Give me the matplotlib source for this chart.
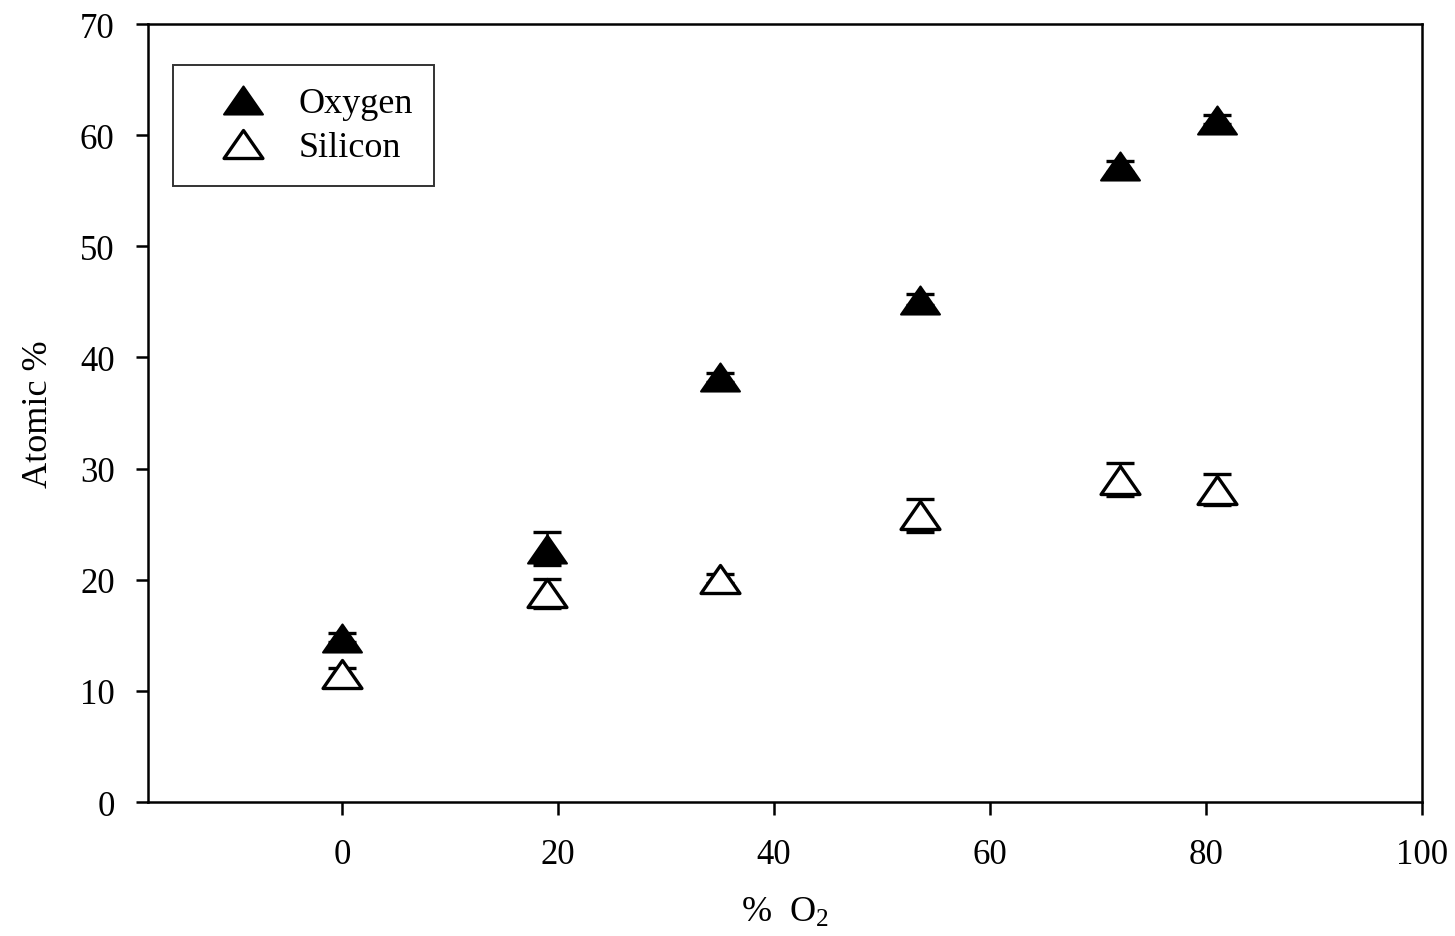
import matplotlib
matplotlib.use("Agg")
import matplotlib.pyplot as plt
from matplotlib.path import Path
from matplotlib.lines import Line2D

plt.rcParams['font.family'] = ['Liberation Serif', 'DejaVu Serif']
plt.rcParams['mathtext.fontset'] = 'custom'
plt.rcParams['mathtext.rm'] = 'Liberation Serif'
plt.rcParams['mathtext.it'] = 'Liberation Serif:italic'

# Oxygen fraction in the feed gas (%)
o2 = [0, 19, 35, 53.5, 72, 81]
# Atomic composition of the film (%)
oxygen = [14.8, 22.8, 38.2, 45.2, 57.2, 61.4]
oxygen_err = [0.4, 1.5, 0.4, 0.5, 0.5, 0.4]
silicon = [11.5, 18.8, 20.1, 25.8, 29.0, 28.1]
silicon_err = [0.6, 1.3, 0.4, 1.5, 1.5, 1.4]

# Slightly flattened triangle marker
tri = Path([(0, 0.72), (-1, -0.72), (1, -0.72), (0, 0.72)],
           [Path.MOVETO, Path.LINETO, Path.LINETO, Path.CLOSEPOLY])

fig = plt.figure(figsize=(14.55, 9.37), dpi=100)
ax = fig.add_axes([0.1017, 0.1430, 0.8756, 0.8303])

ms = 28
ax.errorbar(o2, oxygen, yerr=oxygen_err, fmt='none', ecolor='black',
            elinewidth=1.8, capsize=10, capthick=2.4, zorder=2)
ax.errorbar(o2, silicon, yerr=silicon_err, fmt='none', ecolor='black',
            elinewidth=1.8, capsize=10, capthick=2.4, zorder=2)
ax.plot(o2, oxygen, linestyle='none', marker=tri, markersize=ms,
        markerfacecolor='black', markeredgecolor='black', markeredgewidth=1.5, zorder=3)
ax.plot(o2, silicon, linestyle='none', marker=tri, markersize=ms,
        markerfacecolor='white', markeredgecolor='black', markeredgewidth=2.4, zorder=3)

ax.set_xlim(-18, 100)
ax.set_ylim(0, 70)
ax.set_xticks([0, 20, 40, 60, 80, 100])
ax.set_yticks([0, 10, 20, 30, 40, 50, 60, 70])

for s in ax.spines.values():
    s.set_linewidth(1.8)
ax.tick_params(direction='out', length=9, width=1.8, labelsize=25,
               top=False, right=False)
ax.tick_params(axis='x', pad=17)
ax.tick_params(axis='y', pad=15)

ax.set_xlabel(r'%  O$_2$', fontsize=26, labelpad=18)
ax.set_ylabel('Atomic %', fontsize=26, labelpad=18)

handles = [
    Line2D([], [], linestyle='none', marker=tri, markersize=ms,
           markerfacecolor='black', markeredgecolor='black', markeredgewidth=1.5),
    Line2D([], [], linestyle='none', marker=tri, markersize=ms,
           markerfacecolor='white', markeredgecolor='black', markeredgewidth=2.4),
]
leg = ax.legend(handles, ['Oxygen', 'Silicon'], loc='upper left',
                bbox_to_anchor=(0.0196, 0.947), fontsize=26, frameon=True,
                fancybox=False, borderpad=0.6, handlelength=2.67,
                handletextpad=0.2, labelspacing=0.3, borderaxespad=0)
leg.get_frame().set_edgecolor('black')
leg.get_frame().set_linewidth(1.4)

fig.savefig('out.png', dpi=100)
